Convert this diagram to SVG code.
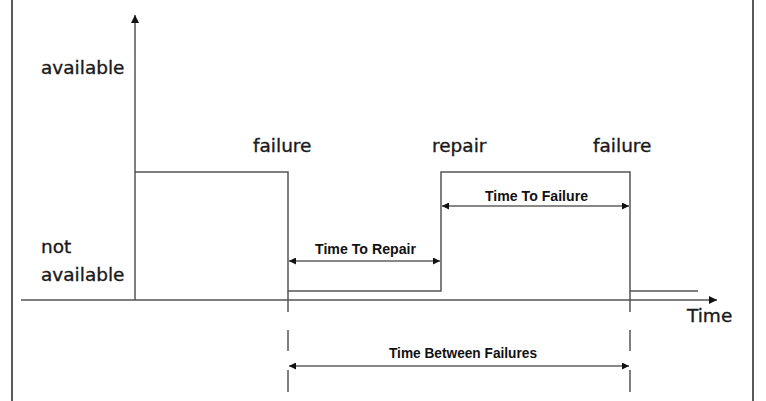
<svg xmlns="http://www.w3.org/2000/svg" width="766" height="401" viewBox="0 0 766 401">
<defs>
<style>
.frame{stroke:#000;stroke-width:1.3;fill:none}
.ax{stroke:#555;stroke-width:1.5;fill:none}
.sig{stroke:#555;stroke-width:1.5;fill:none}
.dim{stroke:#111;stroke-width:1;fill:none;marker-start:url(#ah);marker-end:url(#ah)}
.lbl{font-family:"DejaVu Sans",sans-serif;font-size:18.5px;fill:#1a1a1a;stroke:#1a1a1a;stroke-width:0.35}
.dl{font-family:"Liberation Sans",Arial,sans-serif;font-size:15px;font-weight:bold;fill:#111;text-anchor:middle}
</style>
<marker id="ah" viewBox="0 0 10 10" refX="10" refY="5" markerWidth="9" markerHeight="7" markerUnits="userSpaceOnUse" orient="auto-start-reverse">
<path d="M0,0 L10,5 L0,10 z" fill="#111"/>
</marker>
<marker id="axh" viewBox="0 0 10 10" refX="10" refY="5" markerWidth="10" markerHeight="8" markerUnits="userSpaceOnUse" orient="auto">
<path d="M0,0 L10,5 L0,10 z" fill="#111"/>
</marker>
</defs>
<rect width="766" height="401" fill="#fff"/>
<g id="frame">
<line class="frame" x1="12" y1="0" x2="12" y2="401"/>
<line class="frame" x1="753" y1="0" x2="753" y2="401"/>
</g>
<g id="axes">
<line class="ax" x1="135" y1="300" x2="135" y2="15" marker-end="url(#axh)"/>
<line class="ax" x1="21" y1="300" x2="717" y2="300" marker-end="url(#axh)"/>
</g>
<g id="signal">
<polyline class="sig" points="135,172 288,172 288,291 441,291 441,172 630,172 630,291 698,291"/>
<line class="sig" x1="288" y1="291" x2="288" y2="312"/>
<line class="sig" x1="630" y1="291" x2="630" y2="312"/>
<line class="sig" x1="288" y1="330" x2="288" y2="351"/>
<line class="sig" x1="288" y1="370" x2="288" y2="392"/>
<line class="sig" x1="630" y1="330" x2="630" y2="351"/>
<line class="sig" x1="630" y1="370" x2="630" y2="392"/>
</g>
<g id="labels">
<text class="lbl" x="41" y="74">available</text>
<text class="lbl" x="41" y="253">not</text>
<text class="lbl" x="41" y="281">available</text>
<text class="lbl" x="253" y="152">failure</text>
<text class="lbl" x="432" y="152">repair</text>
<text class="lbl" x="593" y="152">failure</text>
<text class="lbl" x="687" y="322">Time</text>
</g>
<g id="connectors">
<line class="dim" x1="289" y1="261" x2="440" y2="261"/>
<line class="dim" x1="442" y1="206" x2="629" y2="206"/>
<line class="dim" x1="289" y1="366" x2="629" y2="366"/>
</g>
<g id="dimlabels">
<text class="dl" x="365.5" y="254" textLength="101" lengthAdjust="spacingAndGlyphs">Time To Repair</text>
<text class="dl" x="536.5" y="201" textLength="103" lengthAdjust="spacingAndGlyphs">Time To Failure</text>
<text class="dl" x="463" y="358" textLength="148" lengthAdjust="spacingAndGlyphs">Time Between Failures</text>
</g>
</svg>
